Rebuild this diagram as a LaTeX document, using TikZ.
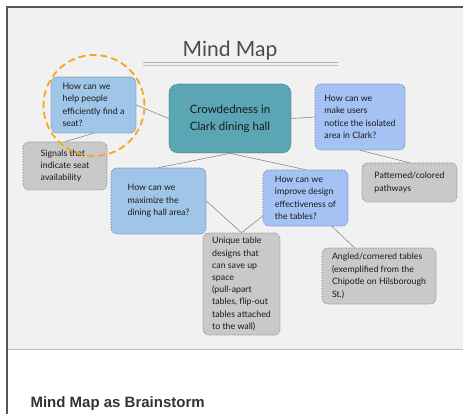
\documentclass[tikz,border=0pt]{standalone}
\usepackage{fontspec}
\setmainfont{Lato}
\newfontfamily\capfont{Liberation Sans}
\usetikzlibrary{shapes, positioning}

\definecolor{slidebg}{HTML}{F1F1F1}
\definecolor{frameline}{HTML}{555555}
\definecolor{skyfill}{HTML}{9FC5E8}
\definecolor{lilacfill}{HTML}{A4C2F4}
\definecolor{tealfill}{HTML}{5AA6B4}
\definecolor{greyfill}{HTML}{C9C9C9}
\definecolor{ringcol}{HTML}{F6A623}
\definecolor{linkcol}{HTML}{8A8A8A}

\tikzset{
    idea/.style={draw=#1!55!black, densely dotted, line width=0.6pt,
        rounded corners=6pt, align=left, inner sep=0pt, text=black!90,
        font=\fontsize{8.8}{12.4}\selectfont},
    skybox/.style={idea=skyfill, fill=skyfill},
    lilacbox/.style={idea=lilacfill, fill=lilacfill},
    greybox/.style={idea=greyfill, fill=greyfill},
    link/.style={draw=linkcol, line width=0.6pt}
}

\begin{document}
\begin{tikzpicture}[x=1pt, y=-1pt]

\useasboundingbox (0,0) rectangle (463,414);

% slide
\fill[slidebg] (7,7) rectangle (463,349);
\draw[black!25, line width=1pt] (7,349) -- (463,349);
\draw[frameline, line width=1.4pt] (463,7) -- (7,7) -- (7,414);

% title
\node[text=black!70, font=\fontsize{21}{23}\selectfont] (title) at (230,51) {Mind Map};
\draw[blue!15!gray!55, line width=0.8pt] (143,62.5) -- (338,62.5);
\draw[blue!15!gray!45, line width=0.8pt] (143,65.5) -- (338,65.5);

% centre
\node[idea=tealfill,
    fill=tealfill,
    align=center,
    minimum width=122pt,
    minimum height=69pt,
    rounded corners=9pt,
    font=\fontsize{11.5}{17}\selectfont
] (hall) at (230,118.5) {Crowdedness in\\Clark dining hall};

% questions
\node[skybox,
    minimum width=85pt,
    minimum height=56pt
] (seat) at (93.5,105) {How can we\\help people\\efficiently find a\\seat?};

\node[lilacbox,
    minimum width=90pt,
    minimum height=66pt
] (notice) at (360,117) {How can we\\make users\\notice the isolated\\area in Clark?};

\node[skybox,
    minimum width=95pt,
    minimum height=66pt
] (area) at (158.5,201) {How can we\\maximize the\\dining hall area?};

\node[lilacbox,
    minimum width=85pt,
    minimum height=56pt
] (design) at (305.5,198) {How can we\\improve design\\effectiveness of\\the tables?};

% answers
\node[greybox,
    minimum width=84pt,
    minimum height=48pt
] (signals) at (65,166) {Signals that\\indicate seat\\availability};

\node[greybox,
    minimum width=95pt,
    minimum height=39pt
] (paths) at (409.5,182.5) {Patterned/colored\\pathways};

\node[greybox,
    minimum width=77pt,
    minimum height=102pt,
    font=\fontsize{8.8}{12.2}\selectfont
] (unique) at (241.5,284) {Unique table\\designs that\\can save up\\space\\(pull-apart\\tables, flip-out\\tables attached\\to the wall)};

\node[greybox,
    minimum width=114pt,
    minimum height=56pt
] (angled) at (379,276) {Angled/cornered tables\\(exemplified from the\\Chipotle on Hilsborough\\St.)};

% links
\draw[link] (seat.east) -- (hall.west);
\draw[link] (seat.south) -- (signals.north);
\draw[link] (hall.east) -- (notice.west);
\draw[link] (hall.south) -- (area.north);
\draw[link] (hall.south) -- (design.north);
\draw[link] (notice.south) -- (paths.north);
\draw[link] (area.east) -- (unique.north);
\draw[link] (design.203) -- (unique.north);
\draw[link] (design.-47) -- (angled.131);

% highlight ring
\node[draw=ringcol,
    circle,
    dashed,
    line width=1.8pt,
    dash pattern=on 7pt off 4pt,
    minimum size=101pt
] (ring) at (94,105.5) {};

% caption
\node[anchor=base west, text=black!80,
    font=\capfont\bfseries\fontsize{15}{18}\selectfont] (caption) at (27,407) {Mind Map as Brainstorm};

\end{tikzpicture}
\end{document}
